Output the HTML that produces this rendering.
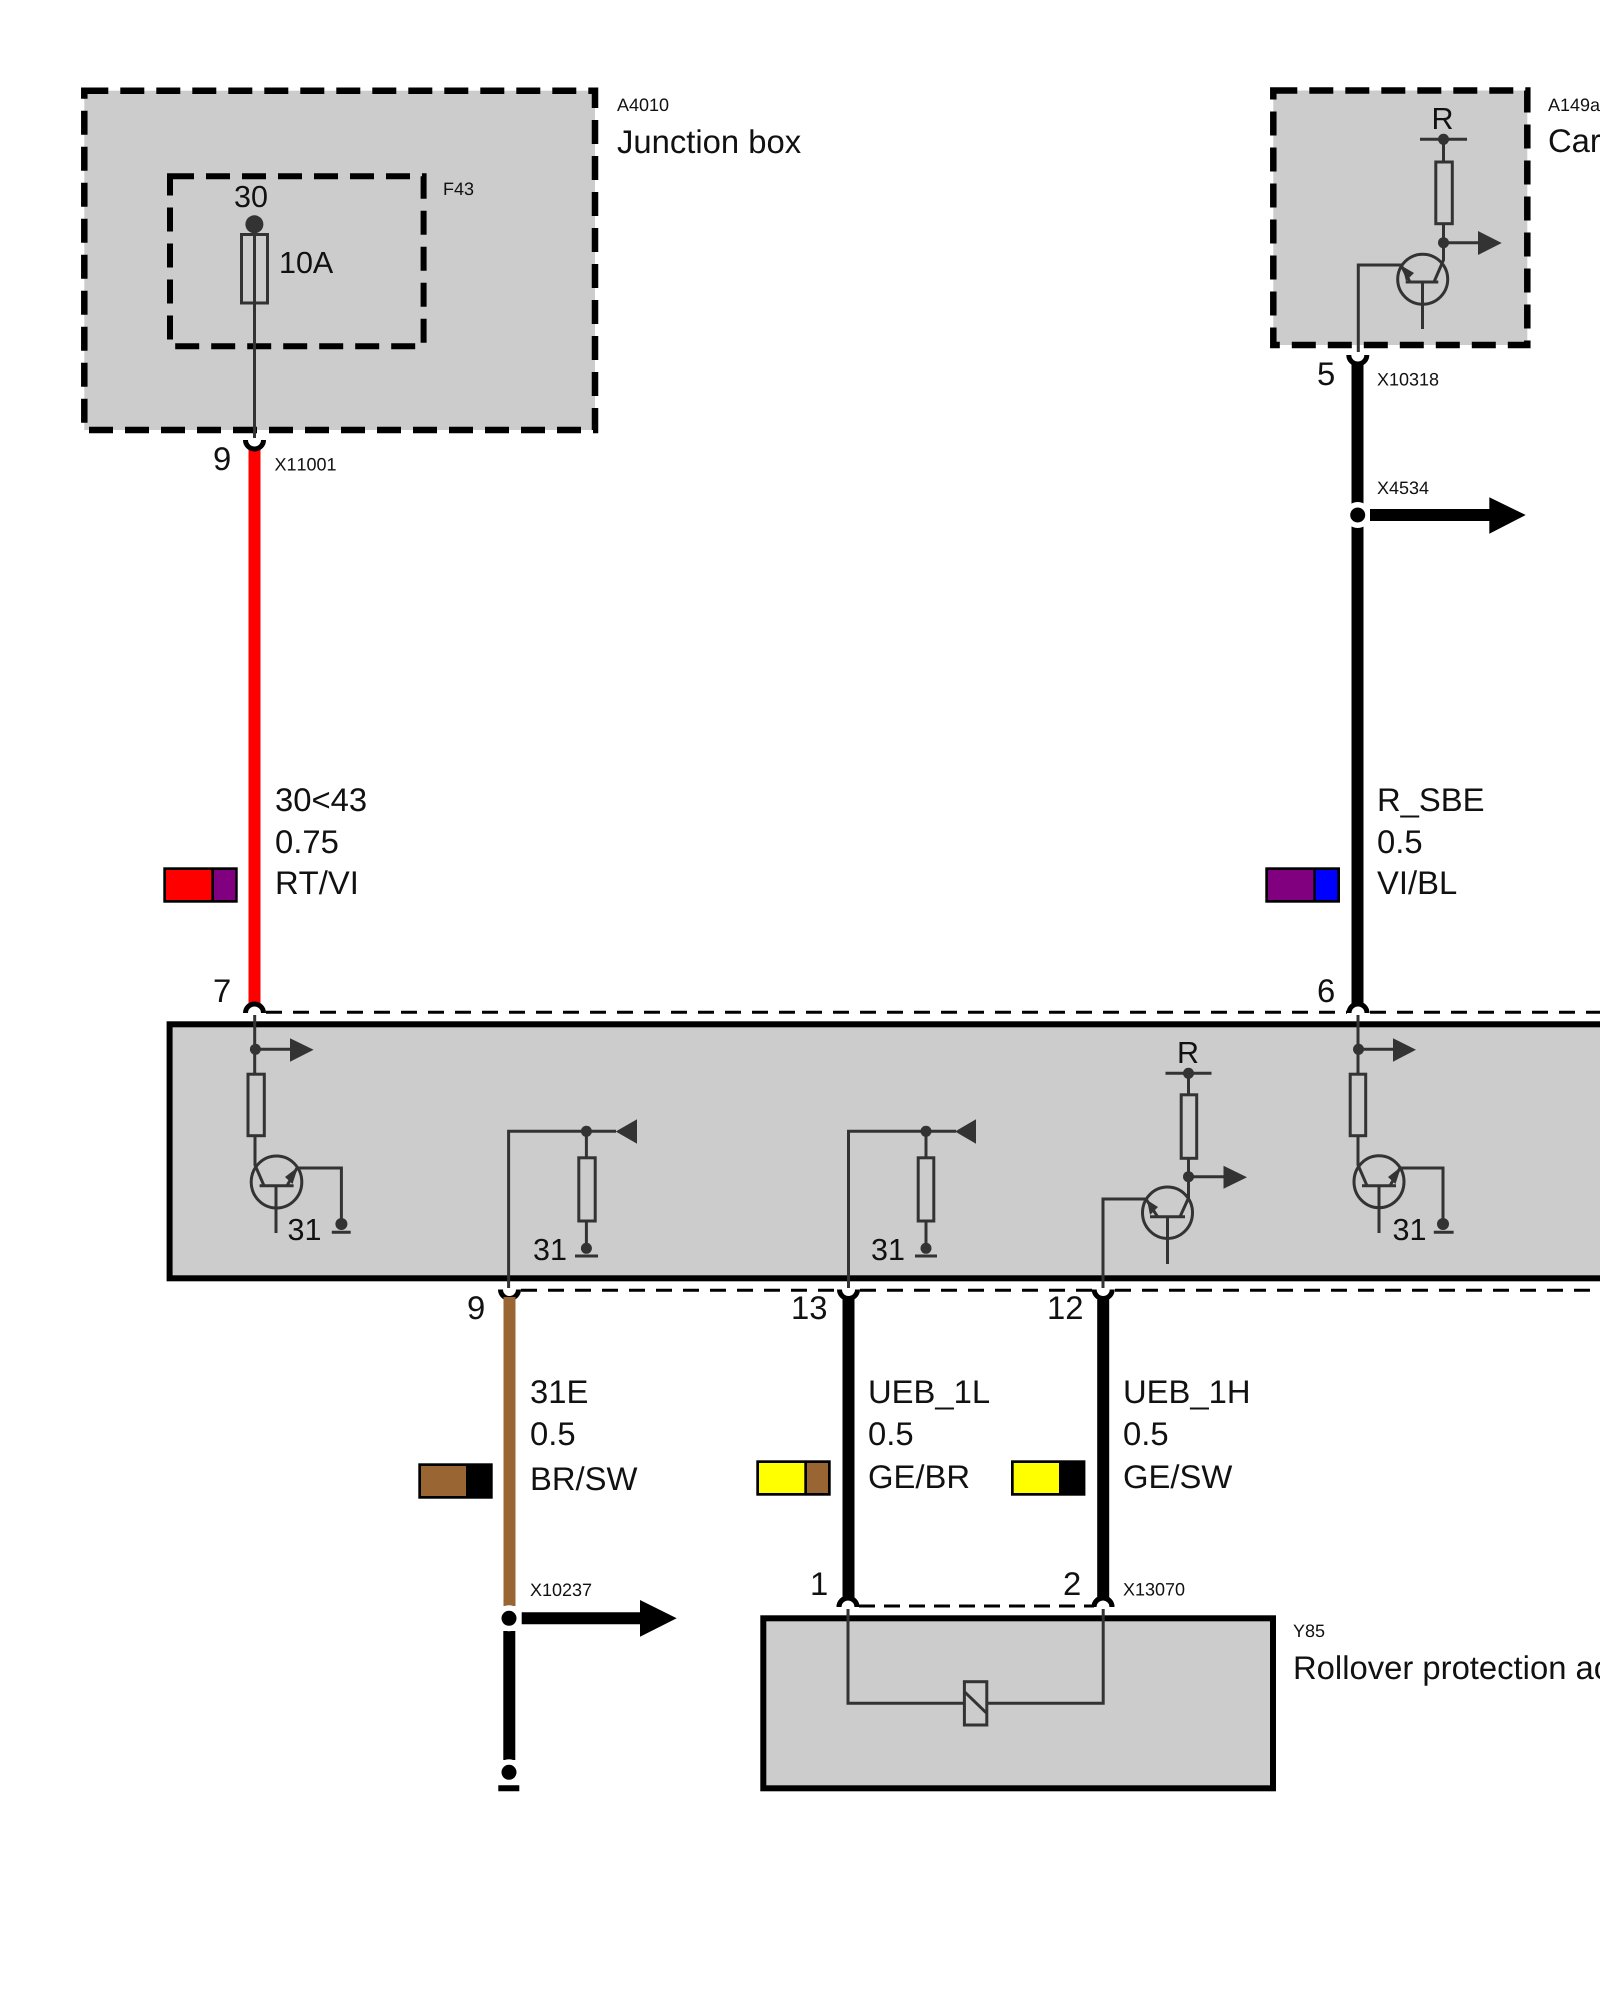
<!DOCTYPE html>
<html><head><meta charset="utf-8"><style>
html,body{margin:0;padding:0;background:#fff;width:1600px;height:2000px;overflow:hidden}
svg{display:block}
text{font-family:"Liberation Sans",sans-serif;fill:#111;text-rendering:geometricPrecision;font-kerning:none}
.l{font-size:32.8px}.s{font-size:18px}.m{font-size:30.5px}
.t{fill:none;stroke:#333;stroke-width:3}
.d{fill:#333;stroke:none}
</style></head><body>
<svg width="1600" height="2000" viewBox="0 0 1600 2000" xmlns="http://www.w3.org/2000/svg">
<rect width="1600" height="2000" fill="#fff"/>

<!-- A4010 -->
<rect x="84.3" y="90.7" width="510.7" height="339.3" fill="#ccc" stroke="#000" stroke-width="6.5" stroke-dasharray="24 12"/>
<rect x="170" y="176.3" width="253.6" height="170" fill="none" stroke="#000" stroke-width="6" stroke-dasharray="24 12"/>
<circle class="d" cx="254.4" cy="224.3" r="9"/>
<rect class="t" x="241.5" y="234.5" width="26" height="68.5"/>
<path class="t" d="M254.5 224V438"/>
<text class="m" x="234" y="207">30</text>
<text class="m" x="279" y="273">10A</text>
<text class="s" x="443" y="195">F43</text>
<text class="s" x="617" y="111">A4010</text>
<text class="l" x="617" y="153">Junction box</text>

<!-- red wire -->
<path d="M254.500 449V1005" stroke="#f00" stroke-width="12" fill="none"/>
<path d="M245.500 440A9 9 0 0 0 263.500 440" fill="none" stroke="#000" stroke-width="5"/>
<text class="l" x="213" y="470">9</text>
<text class="s" x="274.500" y="470.700">X11001</text>
<text class="l" x="275" y="811">30&lt;43</text>
<text class="l" x="275" y="853">0.75</text>
<text class="l" x="275" y="894">RT/VI</text>
<rect x="163.300" y="867.300" width="74.400" height="35.400" fill="#000"/>
<rect x="166" y="870" width="45.300" height="30" fill="#f00"/>
<rect x="214" y="870" width="21.300" height="30" fill="#800080"/>

<!-- A149a -->
<rect x="1273.300" y="90.500" width="254" height="254.500" fill="#ccc" stroke="#000" stroke-width="6.500" stroke-dasharray="24 12"/>
<text class="m" x="1431.500" y="129">R</text>
<path class="t" d="M1420 139.300H1467M1443.500 139.300V162M1443.500 224V260L1434 282M1405.700 282H1438.300M1422.500 282V329M1358.300 352V265H1401L1410 282M1443.500 242.700H1478"/>
<circle class="d" cx="1443.500" cy="139.300" r="5.500"/>
<rect class="t" x="1435.800" y="162" width="16.500" height="61.700"/>
<circle class="d" cx="1443.500" cy="242.700" r="5.500"/>
<polygon class="d" points="1478,231 1501.700,243 1478,255"/>
<circle class="t" cx="1422.700" cy="279.300" r="25"/>
<polygon class="d" points="1402,266 1414,273 1406,281"/>
<path d="M1357.500 363V1005" stroke="#000" stroke-width="12" fill="none"/>
<path d="M1348.800 355A9 9 0 0 0 1366.800 355" fill="none" stroke="#000" stroke-width="5"/>
<text class="l" x="1317" y="385">5</text>
<text class="s" x="1377" y="385.700">X10318</text>
<text class="s" x="1377" y="494">X4534</text>
<text class="s" x="1548" y="111">A149a</text>
<text class="l" x="1548" y="152">Car</text>
<circle cx="1357.700" cy="515" r="13" fill="#fff"/>
<circle cx="1357.700" cy="515" r="7.500" fill="#000"/>
<path d="M1370 515H1490" stroke="#000" stroke-width="12"/>
<polygon points="1489.300,497.300 1525.700,515 1489.300,533.700" fill="#000"/>
<text class="l" x="1377" y="811">R_SBE</text>
<text class="l" x="1377" y="853">0.5</text>
<text class="l" x="1377" y="894">VI/BL</text>
<rect x="1265.300" y="867.300" width="74.700" height="35.400" fill="#000"/>
<rect x="1268" y="870" width="45.300" height="30" fill="#800080"/>
<rect x="1315.700" y="870" width="21.600" height="30" fill="#00f"/>

<!-- main box -->
<rect x="169.600" y="1024.300" width="1450" height="254" fill="#ccc" stroke="#000" stroke-width="6"/>
<path d="M266 1012.300H1347M1370 1012.300H1600" fill="none" stroke="#000" stroke-width="3" stroke-dasharray="16 11"/>
<path d="M521 1290.300H837M860 1290.300H1092M1115 1290.300H1600" fill="none" stroke="#000" stroke-width="3" stroke-dasharray="16 11"/>
<!-- cups on main box -->
<g fill="none" stroke="#000" stroke-width="5">
<path d="M245.500 1013A9 9 0 0 1 263.500 1013"/>
<path d="M1349 1013A9 9 0 0 1 1367 1013"/>
<path d="M500.500 1289.500A9 9 0 0 0 518.500 1289.500"/>
<path d="M839.500 1289.500A9 9 0 0 0 857.500 1289.500"/>
<path d="M1094.200 1289.500A9 9 0 0 0 1112.200 1289.500"/>
<path d="M839 1607A9 9 0 0 1 857 1607"/>
<path d="M1094 1607A9 9 0 0 1 1112 1607"/>
</g>
<text class="l" x="213" y="1002">7</text>
<text class="l" x="1317" y="1002">6</text>
<text class="l" x="467" y="1319">9</text>
<text class="l" x="791" y="1319">13</text>
<text class="l" x="1047" y="1319">12</text>

<!-- left transistor -->
<path class="t" d="M254.700 1015V1074M255 1136V1165L264 1185.700M259.600 1185.700H293.600M276 1185.700V1233M287 1185.700L297 1168H341.400V1224M331.800 1232.300H350.700M255 1049.300H290"/>
<circle class="d" cx="255.400" cy="1049.300" r="5.500"/>
<polygon class="d" points="290,1038.300 313.600,1049.800 290,1061.700"/>
<rect class="t" x="248" y="1074.200" width="16.300" height="61.500"/>
<ellipse class="t" cx="276.500" cy="1182" rx="25.300" ry="26"/>
<polygon class="d" points="298,1167 292.500,1184 285,1177"/>
<circle class="d" cx="341.400" cy="1224" r="6"/>
<text class="m" x="287.500" y="1240">31</text>

<!-- second -->
<path class="t" d="M508.600 1288V1131.300H616M586.400 1131.300V1158M586.400 1221V1248M575 1256H598"/>
<circle class="d" cx="586.400" cy="1131.300" r="5.500"/>
<polygon class="d" points="615.700,1131.500 637,1119.300 637,1143.700"/>
<rect class="t" x="578.800" y="1157.800" width="16.400" height="63.200"/>
<circle class="d" cx="586.400" cy="1248.300" r="5.500"/>
<text class="m" x="533" y="1260">31</text>

<!-- third -->
<path class="t" d="M848.500 1288V1131.300H956M926 1131.300V1158M926 1221V1248M915 1256H937"/>
<circle class="d" cx="926" cy="1131.300" r="5.500"/>
<polygon class="d" points="955,1131.500 976,1119.300 976,1143.700"/>
<rect class="t" x="918.200" y="1157.800" width="15.600" height="63.200"/>
<circle class="d" cx="926" cy="1248.300" r="5.500"/>
<text class="m" x="871" y="1260">31</text>

<!-- fourth -->
<text class="m" x="1177" y="1063">R</text>
<path class="t" d="M1165.500 1073.300H1211.500M1188.500 1073.300V1095M1188.500 1158V1198L1180 1216.700M1150 1216.700H1185M1167.500 1216.700V1264M1103 1288V1199H1146L1157.600 1216.700M1188.500 1176.700H1224"/>
<circle class="d" cx="1188.500" cy="1073.300" r="5.500"/>
<rect class="t" x="1181.200" y="1094.800" width="15.500" height="63.500"/>
<circle class="d" cx="1188.500" cy="1176.700" r="5.500"/>
<polygon class="d" points="1223.500,1165.700 1247,1177.200 1223.500,1188.700"/>
<ellipse class="t" cx="1167.500" cy="1212.700" rx="25" ry="25.700"/>
<polygon class="d" points="1147,1200 1158,1207 1150,1215"/>

<!-- fifth -->
<path class="t" d="M1358 1015V1074M1358 1136V1165L1367 1185.700M1362 1185.700H1396M1379 1185.700V1233M1390 1185.700L1400 1168H1443V1224M1433.800 1232.300H1453.600M1358 1049.300H1393"/>
<circle class="d" cx="1358.500" cy="1049.300" r="5.500"/>
<polygon class="d" points="1393,1038.300 1416,1049.800 1393,1061.700"/>
<rect class="t" x="1350.200" y="1074.200" width="15.500" height="61.500"/>
<ellipse class="t" cx="1379" cy="1181.700" rx="25" ry="26"/>
<polygon class="d" points="1401,1167 1395.500,1184 1388,1177"/>
<circle class="d" cx="1443" cy="1224" r="6"/>
<text class="m" x="1392.500" y="1240">31</text>

<!-- bottom wires -->
<path d="M509.500 1297V1606" stroke="#963" stroke-width="12" fill="none"/>
<path d="M509.300 1631V1760" stroke="#000" stroke-width="12" fill="none"/>
<path d="M848.500 1297V1599M1103.200 1297V1599" stroke="#000" stroke-width="12" fill="none"/>
<circle cx="509" cy="1618.300" r="13" fill="#fff"/>
<circle cx="509" cy="1618.300" r="7.500" fill="#000"/>
<path d="M521.700 1618.300H641" stroke="#000" stroke-width="12"/>
<polygon points="640,1600 676.700,1618.300 640,1636.700" fill="#000"/>
<circle cx="509" cy="1772.300" r="13" fill="#fff"/>
<circle cx="509" cy="1772.300" r="7.500" fill="#000"/>
<path d="M498.300 1788.300H519.300" stroke="#000" stroke-width="6"/>

<text class="l" x="530" y="1403">31E</text>
<text class="l" x="530" y="1445">0.5</text>
<text class="l" x="530" y="1490">BR/SW</text>
<rect x="418.300" y="1463.300" width="74.400" height="35.400" fill="#000"/>
<rect x="421" y="1466" width="45" height="30" fill="#963"/>
<text class="s" x="530" y="1596">X10237</text>

<text class="l" x="868" y="1403">UEB_1L</text>
<text class="l" x="868" y="1445">0.5</text>
<text class="l" x="868" y="1488">GE/BR</text>
<rect x="756.300" y="1460.300" width="74.400" height="35.400" fill="#000"/>
<rect x="759" y="1463" width="45.300" height="30" fill="#ff0"/>
<rect x="807" y="1463" width="21" height="30" fill="#963"/>

<text class="l" x="1123" y="1403">UEB_1H</text>
<text class="l" x="1123" y="1445">0.5</text>
<text class="l" x="1123" y="1488">GE/SW</text>
<rect x="1011" y="1460.300" width="74.400" height="35.400" fill="#000"/>
<rect x="1013.700" y="1463" width="45.300" height="30" fill="#ff0"/>

<!-- Y85 -->
<rect x="763.300" y="1618.300" width="509.700" height="170" fill="#ccc" stroke="#000" stroke-width="6"/>
<path d="M859 1606H1094" fill="none" stroke="#000" stroke-width="3" stroke-dasharray="16 9"/>
<g fill="none" stroke="#000" stroke-width="5">
<path d="M839 1607A9 9 0 0 1 857 1607"/>
<path d="M1094 1607A9 9 0 0 1 1112 1607"/>
</g>
<path class="t" d="M848 1609V1703.300H965M986 1703.300H1103.200V1609M964.400 1691.700L986.800 1713.300"/>
<rect class="t" x="964.400" y="1681.700" width="22.400" height="43.300"/>
<text class="l" x="810" y="1595">1</text>
<text class="l" x="1063" y="1595">2</text>
<text class="s" x="1123" y="1595.500">X13070</text>
<text class="s" x="1293" y="1637">Y85</text>
<text class="l" x="1293" y="1679">Rollover protection ac</text>
</svg>
</body></html>
